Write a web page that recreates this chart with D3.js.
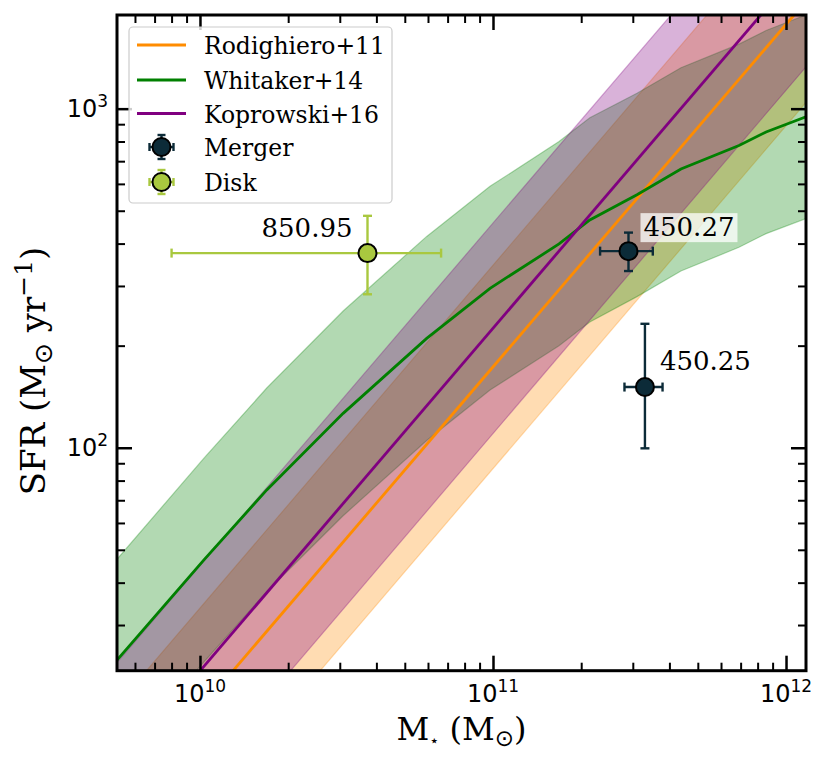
<!DOCTYPE html>
<html>
<head>
<meta charset="utf-8">
<script src="https://cdn.jsdelivr.net/npm/d3@7"></script>
<style>
  body { margin: 0; background: #fff; }
  svg { display: block; }
</style>
</head>
<body>
<svg id="chart" width="822" height="761"></svg>
<script>
// main-sequence relations (stellar mass in Msun, SFR in Msun/yr)
const rodMass = [5.0e9, 1.25e12];
const rodSfr = [8.4, 2220];
const rodLow = [4.2, 1115];
const rodHigh = [16.7, 4440];

const kopMass = [5.0e9, 1.25e12];
const kopSfr = [10.9, 2890];
const kopLow = [5.3, 1420];
const kopHigh = [22.3, 5900];

const whitMass = [5.0e9, 1.03e10, 1.69e10, 3.08e10, 5.94e10, 9.77e10, 1.68e11, 2.14e11, 3.10e11, 4.38e11, 6.91e11, 8.55e11, 1.17e12];
const whitSfr = [22.7, 46.6, 75.1, 126.3, 210.2, 295.3, 399, 469.6, 557.5, 663.9, 778.4, 853.6, 946.4];
const whitLow = [11.4, 23.3, 37.6, 63, 105, 148, 200, 235, 279, 332, 390, 428, 474];
const whitHigh = [45, 93, 150, 253, 420, 590, 800, 940, 1110, 1320, 1550, 1700, 1890];

// galaxies
const mergerMass = [2.90e11, 3.30e11];
const mergerMassLo = [2.32e11, 2.81e11];
const mergerMassHi = [3.51e11, 3.79e11];
const mergerSfr = [380, 151];
const mergerSfrLo = [332, 99.6];
const mergerSfrHi = [431, 232];
const mergerLabels = ['450.27', '450.25'];

const diskMass = [3.73e10];
const diskMassLo = [8.0e9];
const diskMassHi = [6.65e10];
const diskSfr = [375];
const diskSfrLo = [283.5];
const diskSfrHi = [483];
const diskLabels = ['850.95'];

const xMajor = [1e10, 1e11, 1e12];
const xMajorExp = ['10', '11', '12'];
const yMajor = [1e2, 1e3];
const yMajorExp = ['2', '3'];

const legendNames = ['Rodighiero+11', 'Whitaker+14', 'Koprowski+16', 'Merger', 'Disk'];

const orange = '#ff8c00', green = '#008000', purple = '#800080';
const mergerColor = '#0c2b38', diskColor = '#a9c83f';

const pLeft = 117, pRight = 806, pTop = 15, pBottom = 670.7;

const svg = d3.select('#chart');
const x = d3.scaleLog().domain([5.21e9, 1.17e12]).range([pLeft, pRight]);
const y = d3.scaleLog().domain([22.0, 1889]).range([pBottom, pTop]);

svg.append('defs').append('clipPath').attr('id', 'plotclip')
  .append('rect').attr('x', pLeft).attr('y', pTop).attr('width', pRight - pLeft).attr('height', pBottom - pTop);

const plot = svg.append('g').attr('clip-path', 'url(#plotclip)');

function bandData(mass, lo, hi) {
  return mass.map((m, i) => ({ m: m, lo: lo[i], hi: hi[i] }));
}
function lineData(mass, sfr) {
  return mass.map((m, i) => ({ m: m, s: sfr[i] }));
}

const area = d3.area().x((d) => x(d.m)).y0((d) => y(d.lo)).y1((d) => y(d.hi));
const line = d3.line().x((d) => x(d.m)).y((d) => y(d.s));

// bands: orange, green, purple (same stacking as the original)
[[rodMass, rodLow, rodHigh, orange], [whitMass, whitLow, whitHigh, green], [kopMass, kopLow, kopHigh, purple]]
  .forEach(([m, lo, hi, c]) => {
    plot.append('path')
      .attr('d', area(bandData(m, lo, hi)))
      .attr('fill', c).attr('fill-opacity', 0.3)
      .attr('stroke', c).attr('stroke-opacity', 0.3).attr('stroke-width', 1.2);
  });

[[rodMass, rodSfr, orange], [whitMass, whitSfr, green], [kopMass, kopSfr, purple]]
  .forEach(([m, s, c]) => {
    plot.append('path')
      .attr('d', line(lineData(m, s)))
      .attr('fill', 'none').attr('stroke', c).attr('stroke-width', 2.8);
  });

// error bars + markers
function drawPoints(mass, mLo, mHi, sfr, sLo, sHi, color, labels, labelPos) {
  mass.forEach((m, i) => {
    const cx = x(m), cy = y(sfr[i]);
    const g = svg.append('g').attr('stroke', color).attr('stroke-width', 2.4);
    g.append('line').attr('x1', x(mLo[i])).attr('x2', x(mHi[i])).attr('y1', cy).attr('y2', cy);
    g.append('line').attr('x1', cx).attr('x2', cx).attr('y1', y(sLo[i])).attr('y2', y(sHi[i]));
    [x(mLo[i]), x(mHi[i])].forEach((px) => g.append('line').attr('x1', px).attr('x2', px).attr('y1', cy - 4.5).attr('y2', cy + 4.5));
    [y(sLo[i]), y(sHi[i])].forEach((py) => g.append('line').attr('x1', cx - 4.5).attr('x2', cx + 4.5).attr('y1', py).attr('y2', py));
    svg.append('circle').attr('cx', cx).attr('cy', cy).attr('r', 9)
      .attr('fill', color).attr('stroke', '#000').attr('stroke-width', 2);

    const p = labelPos[i];
    const t = svg.append('text')
      .attr('x', cx + p.dx).attr('y', cy + p.dy)
      .attr('text-anchor', p.anchor)
      .attr('font-family', 'DejaVu Serif').attr('font-size', 26)
      .attr('fill', '#000').text(labels[i]);
    if (p.box) {
      const b = t.node().getBBox();
      svg.insert('rect', () => t.node())
        .attr('x', b.x - 3).attr('y', b.y + 1).attr('width', b.width + 6).attr('height', b.height - 1)
        .attr('fill', '#fff').attr('fill-opacity', 0.75);
    }
  });
}

drawPoints(diskMass, diskMassLo, diskMassHi, diskSfr, diskSfrLo, diskSfrHi, diskColor, diskLabels,
  [{ dx: -15, dy: -16, anchor: 'end' }]);
drawPoints(mergerMass, mergerMassLo, mergerMassHi, mergerSfr, mergerSfrLo, mergerSfrHi, mergerColor, mergerLabels,
  [{ dx: 15, dy: -15, anchor: 'start', box: true }, { dx: 15, dy: -17, anchor: 'start' }]);

// axes
const xMinor = x.ticks().filter((v) => !xMajor.includes(v));
const yMinor = y.ticks().filter((v) => !yMajor.includes(v));

function styleAxis(g) {
  g.select('.domain').remove();
  g.selectAll('.tick line').attr('stroke', '#000');
}

svg.append('g').attr('transform', `translate(0,${pBottom})`)
  .call(d3.axisBottom(x).tickValues(xMinor).tickSize(-8).tickFormat(''))
  .call(styleAxis).selectAll('.tick line').attr('stroke-width', 2);
svg.append('g').attr('transform', `translate(0,${pBottom})`)
  .call(d3.axisBottom(x).tickValues(xMajor).tickSize(-15).tickFormat(''))
  .call(styleAxis).selectAll('.tick line').attr('stroke-width', 2.5);
svg.append('g').attr('transform', `translate(0,${pTop})`)
  .call(d3.axisTop(x).tickValues(xMinor).tickSize(-8).tickFormat(''))
  .call(styleAxis).selectAll('.tick line').attr('stroke-width', 2);
svg.append('g').attr('transform', `translate(0,${pTop})`)
  .call(d3.axisTop(x).tickValues(xMajor).tickSize(-15).tickFormat(''))
  .call(styleAxis).selectAll('.tick line').attr('stroke-width', 2.5);
svg.append('g').attr('transform', `translate(${pLeft},0)`)
  .call(d3.axisLeft(y).tickValues(yMinor).tickSize(-8).tickFormat(''))
  .call(styleAxis).selectAll('.tick line').attr('stroke-width', 2);
svg.append('g').attr('transform', `translate(${pLeft},0)`)
  .call(d3.axisLeft(y).tickValues(yMajor).tickSize(-15).tickFormat(''))
  .call(styleAxis).selectAll('.tick line').attr('stroke-width', 2.5);
svg.append('g').attr('transform', `translate(${pRight},0)`)
  .call(d3.axisRight(y).tickValues(yMinor).tickSize(-8).tickFormat(''))
  .call(styleAxis).selectAll('.tick line').attr('stroke-width', 2);
svg.append('g').attr('transform', `translate(${pRight},0)`)
  .call(d3.axisRight(y).tickValues(yMajor).tickSize(-15).tickFormat(''))
  .call(styleAxis).selectAll('.tick line').attr('stroke-width', 2.5);

// tick labels 10^n
const tickFont = 'DejaVu Sans';
xMajor.forEach((v, i) => {
  const t = svg.append('text').attr('x', x(v)).attr('y', 702).attr('text-anchor', 'middle')
    .attr('font-family', tickFont).attr('font-size', 24).attr('fill', '#000');
  t.append('tspan').text('10');
  t.append('tspan').attr('dy', -10).attr('font-size', 17).text(xMajorExp[i]);
});
yMajor.forEach((v, i) => {
  const t = svg.append('text').attr('x', 108).attr('y', y(v) + 8).attr('text-anchor', 'end')
    .attr('font-family', tickFont).attr('font-size', 24).attr('fill', '#000');
  t.append('tspan').text('10');
  t.append('tspan').attr('dy', -10).attr('font-size', 17).text(yMajorExp[i]);
});

// frame
svg.append('rect').attr('x', pLeft).attr('y', pTop).attr('width', pRight - pLeft).attr('height', pBottom - pTop)
  .attr('fill', 'none').attr('stroke', '#000').attr('stroke-width', 3);

// axis labels
const xl = svg.append('text').attr('x', (pLeft + pRight) / 2).attr('y', 740).attr('text-anchor', 'middle')
  .attr('font-family', 'DejaVu Serif').attr('font-size', 32).attr('fill', '#000');
xl.append('tspan').text('M');
xl.append('tspan').attr('dy', 6).attr('font-size', 16).attr('font-family', 'DejaVu Sans').text('\u22C6');
xl.append('tspan').attr('dy', -6).text(' (M');
xl.append('tspan').attr('dy', 6).attr('font-size', 23).attr('font-family', 'DejaVu Sans').text('\u2299');
xl.append('tspan').attr('dy', -6).text(')');

const yl = svg.append('text').attr('transform', 'translate(45,371) rotate(-90)').attr('text-anchor', 'middle')
  .attr('font-family', 'DejaVu Serif').attr('font-size', 34).attr('fill', '#000');
yl.append('tspan').text('SFR (M');
yl.append('tspan').attr('dy', 7).attr('font-size', 25).attr('font-family', 'DejaVu Sans').text('\u2299');
yl.append('tspan').attr('dy', -7).text(' yr');
yl.append('tspan').attr('dy', -13).attr('font-size', 25).text('\u22121');
yl.append('tspan').attr('dy', 13).text(')');

// legend
const lg = svg.append('g');
lg.append('rect').attr('x', 129).attr('y', 27).attr('width', 263).attr('height', 176).attr('rx', 4)
  .attr('fill', '#fff').attr('fill-opacity', 0.8).attr('stroke', '#cccccc').attr('stroke-width', 1.2);
const rowY = [45, 80, 113.5, 147, 182];
[orange, green, purple].forEach((c, i) => {
  lg.append('line').attr('x1', 137).attr('x2', 186).attr('y1', rowY[i]).attr('y2', rowY[i])
    .attr('stroke', c).attr('stroke-width', 2.8);
});
[mergerColor, diskColor].forEach((c, j) => {
  const cy = rowY[3 + j], cx = 161.5;
  const g = lg.append('g').attr('stroke', c).attr('stroke-width', 2.4);
  g.append('line').attr('x1', cx - 12).attr('x2', cx + 12).attr('y1', cy).attr('y2', cy);
  g.append('line').attr('x1', cx).attr('x2', cx).attr('y1', cy - 12).attr('y2', cy + 12);
  g.append('line').attr('x1', cx - 12).attr('x2', cx - 12).attr('y1', cy - 4).attr('y2', cy + 4);
  g.append('line').attr('x1', cx + 12).attr('x2', cx + 12).attr('y1', cy - 4).attr('y2', cy + 4);
  g.append('line').attr('x1', cx - 4).attr('x2', cx + 4).attr('y1', cy - 12).attr('y2', cy - 12);
  g.append('line').attr('x1', cx - 4).attr('x2', cx + 4).attr('y1', cy + 12).attr('y2', cy + 12);
  lg.append('circle').attr('cx', cx).attr('cy', cy).attr('r', 9)
    .attr('fill', c).attr('stroke', '#000').attr('stroke-width', 2);
});
legendNames.forEach((n, i) => {
  lg.append('text').attr('x', 204).attr('y', rowY[i] + 9)
    .attr('font-family', 'DejaVu Serif').attr('font-size', 23.5).attr('fill', '#000').text(n);
});
</script>
</body>
</html>
